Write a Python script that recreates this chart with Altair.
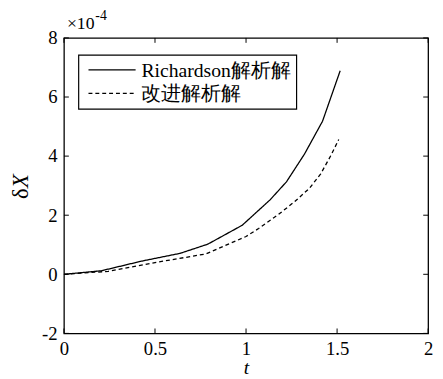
import altair as alt
import pandas as pd

series_names = ["Richardson解析解", "改进解析解"]
t_rich = [0, 0.206, 0.422, 0.638, 0.79, 0.979, 1.132, 1.222, 1.321, 1.42, 1.517]
dx_rich = [0, 0.12, 0.44, 0.71, 1.02, 1.66, 2.52, 3.13, 4.07, 5.18, 6.89]
t_imp = [0, 0.243, 0.512, 0.78, 1.0, 1.069, 1.177, 1.267, 1.348, 1.41, 1.465, 1.509]
dx_imp = [0, 0.10, 0.41, 0.69, 1.28, 1.55, 2.02, 2.46, 2.91, 3.40, 4.01, 4.56]

x_ticks = [0, 0.5, 1, 1.5, 2]
y_ticks = [-2, 0, 2, 4, 6, 8]

rows = []
for t, v in zip(t_rich, dx_rich):
    rows.append({"t": t, "dx": v, "s": series_names[0]})
for t, v in zip(t_imp, dx_imp):
    rows.append({"t": t, "dx": v, "s": series_names[1]})
df = pd.DataFrame(rows)

W, H = 371, 301
FONT = "Liberation Serif"
TL = 5

xs = alt.Scale(domain=[0, 2], nice=False)
ys = alt.Scale(domain=[-2, 8], nice=False)

xa = alt.Axis(orient="bottom", values=x_ticks, ticks=False, domain=False, grid=False,
              labelFont=FONT, labelFontSize=19, labelPadding=6, labelColor="black",
              labelExpr="'' + datum.value",
              title="t", titleFont=FONT, titleFontStyle="italic", titleFontWeight="normal",
              titleFontSize=20, titlePadding=0, titleColor="black", labelFlush=False)
ya = alt.Axis(orient="left", values=y_ticks, ticks=False, domain=False, grid=False,
              labelFont=FONT, labelFontSize=19, labelPadding=7, labelColor="black",
              labelExpr="'' + datum.value", title=None, labelFlush=False)

lines = alt.Chart(df).mark_line(color="black", strokeWidth=1.3).encode(
    x=alt.X("t:Q", scale=xs, axis=xa, title="t"),
    y=alt.Y("dx:Q", scale=ys, axis=ya, title=None),
    strokeDash=alt.StrokeDash("s:N", scale=alt.Scale(domain=series_names, range=[[1, 0], [4, 3]]), legend=None),
    detail="s:N",
    order="t:Q",
)

xt_df = pd.DataFrame({"v": x_ticks})
yt_df = pd.DataFrame({"v": y_ticks})

xt_bot = alt.Chart(xt_df).mark_rule(color="black", strokeWidth=1).encode(
    x=alt.X("v:Q", scale=xs, axis=xa, title="t"), y=alt.value(H), y2=alt.value(H - TL))
xt_top = alt.Chart(xt_df).mark_rule(color="black", strokeWidth=1).encode(
    x=alt.X("v:Q", scale=xs, axis=xa, title="t"), y=alt.value(0), y2=alt.value(TL))
yt_left = alt.Chart(yt_df).mark_rule(color="black", strokeWidth=1).encode(
    y=alt.Y("v:Q", scale=ys, axis=ya, title=None), x=alt.value(0), x2=alt.value(TL))
yt_right = alt.Chart(yt_df).mark_rule(color="black", strokeWidth=1).encode(
    y=alt.Y("v:Q", scale=ys, axis=ya, title=None), x=alt.value(W), x2=alt.value(W - TL))

# legend (drawn by hand)
LX, LY, LW, LH = 15, 17.5, 222, 55
leg_box = alt.Chart(pd.DataFrame({"a": [0]})).mark_rect(fill="white", stroke="black", strokeWidth=1.2).encode(
    x=alt.value(LX), x2=alt.value(LX + LW), y=alt.value(LY), y2=alt.value(LY + LH))
leg_df = pd.DataFrame({"s": series_names, "row": [0, 1]})
leg_line1 = alt.Chart(leg_df).transform_filter(alt.datum.row == 0).mark_rule(color="black", strokeWidth=1.3).encode(
    x=alt.value(LX + 10), x2=alt.value(LX + 58), y=alt.value(LY + 15))
leg_line2 = alt.Chart(leg_df).transform_filter(alt.datum.row == 1).mark_rule(
    color="black", strokeWidth=1.3, strokeDash=[4, 3]).encode(
    x=alt.value(LX + 10), x2=alt.value(LX + 58), y=alt.value(LY + 39))
leg_t1 = alt.Chart(leg_df).transform_filter(alt.datum.row == 0).mark_text(
    font=FONT, fontSize=20, align="left", baseline="middle", color="black").encode(
    text="s:N", x=alt.value(LX + 64), y=alt.value(LY + 16))
leg_t2 = alt.Chart(leg_df).transform_filter(alt.datum.row == 1).mark_text(
    font=FONT, fontSize=20, align="left", baseline="middle", color="black").encode(
    text="s:N", x=alt.value(LX + 64), y=alt.value(LY + 40))

exp_df = pd.DataFrame({"txt": ["×10", "-4"]})
exp1 = alt.Chart(exp_df).transform_filter(alt.datum.txt == "×10").mark_text(
    font=FONT, fontSize=18, align="left", baseline="alphabetic", color="black").encode(
    text="txt:N", x=alt.value(3), y=alt.value(-9))
exp2 = alt.Chart(exp_df).transform_filter(alt.datum.txt == "-4").mark_text(
    font=FONT, fontSize=14, align="left", baseline="alphabetic", color="black").encode(
    text="txt:N", x=alt.value(32), y=alt.value(-18))

ylab_df = pd.DataFrame({"txt": ["δ", "X"]})
ylab1 = alt.Chart(ylab_df).transform_filter(alt.datum.txt == "δ").mark_text(
    font=FONT, fontSize=23, align="left", baseline="middle", angle=270, color="black").encode(
    text="txt:N", x=alt.value(-44), y=alt.value(164))
ylab2 = alt.Chart(ylab_df).transform_filter(alt.datum.txt == "X").mark_text(
    font=FONT, fontSize=23, fontStyle="italic", align="left", baseline="middle", angle=270, color="black").encode(
    text="txt:N", x=alt.value(-44), y=alt.value(153))

chart = alt.layer(lines, xt_bot, xt_top, yt_left, yt_right, leg_box, leg_line1, leg_line2, leg_t1, leg_t2,
                  exp1, exp2, ylab1, ylab2).properties(
    width=W, height=H,
    autosize=alt.AutoSizeParams(type="none"),
    padding={"left": 57, "top": 27, "right": 7, "bottom": 45},
    background="white",
).configure_view(stroke="black", strokeWidth=1.3)

chart.save("out.html", embed_options={"renderer": "svg", "actions": False})
